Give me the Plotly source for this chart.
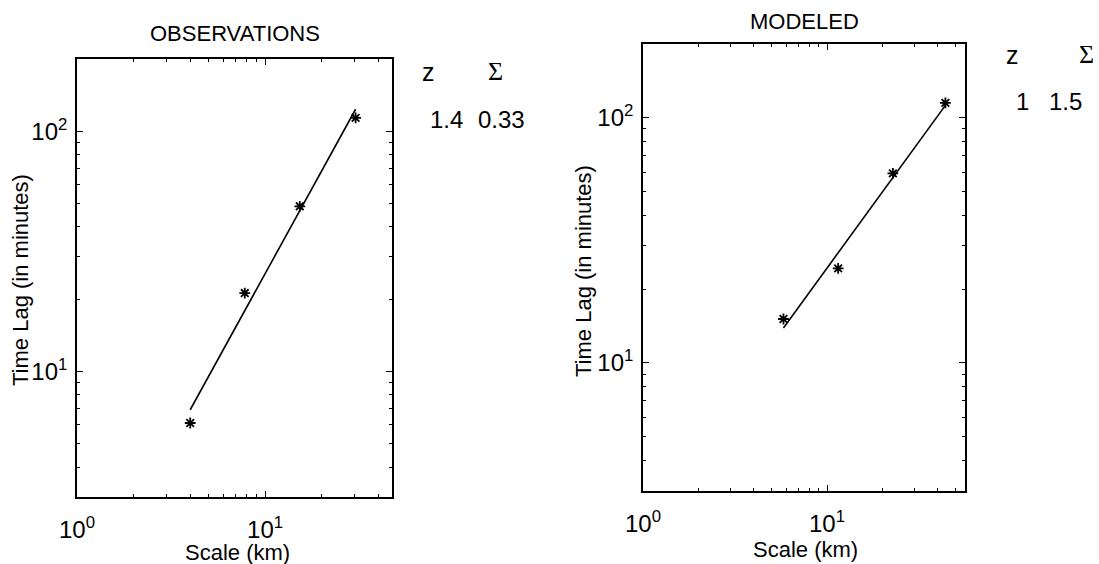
import numpy as np
import plotly.graph_objects as go

# Observed time lag vs spatial scale
obs_scale = [4.0, 7.8, 15.3, 30.3]
obs_lag = [6.1, 21.2, 48.7, 113.7]

# Modeled time lag vs spatial scale
mod_scale = [5.8, 11.5, 22.8, 44.0]
mod_lag = [15.1, 24.3, 59.3, 115.0]

panel_titles = ["OBSERVATIONS", "MODELED"]
param_heads = ["z", "\u03a3"]
obs_params = ["1.4", "0.33"]
mod_params = ["1", "1.5"]

decades = [1, 10, 100]
decade_labels = ["10<sup>0</sup>", "10<sup>1</sup>", "10<sup>2</sup>"]

W, H = 1099, 564
SANS = "Liberation Sans, Arial, sans-serif"
SERIF = "Liberation Serif, Times New Roman, serif"


def px(x):
    return x / W


def py(y):
    return 1 - y / H


def power_fit(xs, ys):
    lx, ly = np.log10(xs), np.log10(ys)
    slope, icpt = np.polyfit(lx, ly, 1)
    xe = np.array([min(xs), max(xs)])
    return xe, 10 ** (icpt + slope * np.log10(xe))


fig = go.Figure()

panels = [
    dict(xs=obs_scale, ys=obs_lag, xa="x", ya="y"),
    dict(xs=mod_scale, ys=mod_lag, xa="x2", ya="y2"),
]
for p in panels:
    fx, fy = power_fit(p["xs"], p["ys"])
    fig.add_trace(go.Scatter(x=fx, y=fy, mode="lines", xaxis=p["xa"], yaxis=p["ya"],
                             line=dict(color="black", width=1.6), showlegend=False))
    fig.add_trace(go.Scatter(x=p["xs"], y=p["ys"], mode="markers", xaxis=p["xa"], yaxis=p["ya"],
                             marker=dict(symbol="asterisk-open", size=9, color="black",
                                         line=dict(color="black", width=1.8)),
                             showlegend=False))


def log_axis(domain, rng, anchor, standoff):
    return dict(
        type="log", domain=domain, range=rng, anchor=anchor,
        showgrid=False, zeroline=False,
        showline=True, linecolor="black", linewidth=1.6, mirror="ticks",
        ticks="inside", ticklen=6, tickwidth=1.2, tickcolor="black",
        tickmode="array", tickvals=decades, ticktext=decade_labels,
        tickfont=dict(family=SANS, size=24, color="black"),
        ticklabelstandoff=standoff,
        minor=dict(ticks="inside", ticklen=3, tickwidth=1, tickcolor="black", dtick="D1"),
        automargin=False,
    )


# plot areas in pixels: (left, right, top, bottom)
boxes = [(77, 392, 59, 497), (643, 965, 44, 491)]
xr = [[0, 1.675], [0, 1.75]]
yr = [np.log10(3), np.log10(200)]

layout = dict(
    width=W, height=H, margin=dict(l=0, r=0, t=0, b=0),
    paper_bgcolor="white", plot_bgcolor="white", showlegend=False,
)
for i, (l, r, t, b) in enumerate(boxes):
    sfx = "" if i == 0 else str(i + 1)
    layout["xaxis" + sfx] = log_axis([px(l), px(r)], xr[i], "y" + sfx, 10)
    layout["yaxis" + sfx] = log_axis([py(b), py(t)], yr, "x" + sfx, 3)
fig.update_layout(**layout)

ann = []


def text(x, y, s, size=22, family=SANS, angle=0):
    ann.append(dict(x=px(x), y=py(y), xref="paper", yref="paper", text=s, showarrow=False,
                    xanchor="center", yanchor="middle", textangle=angle,
                    font=dict(family=family, size=size, color="black")))


# panel titles
text(234.5, 33, panel_titles[0])
text(804, 21, panel_titles[1])
# axis titles
text(237, 552, "Scale (km)")
text(805, 549, "Scale (km)")
text(20, 280, "Time Lag (in minutes)", angle=-90)
text(583, 271, "Time Lag (in minutes)", angle=-90)
# fit parameters beside each panel
text(428, 72, param_heads[0], size=25)
text(495, 71, param_heads[1], size=26, family=SERIF)
text(446, 120, obs_params[0], size=24)
text(501.5, 120, obs_params[1], size=24)
text(1012.5, 55, param_heads[0], size=25)
text(1086, 55, param_heads[1], size=26, family=SERIF)
text(1022, 101, mod_params[0], size=24)
text(1065, 101, mod_params[1], size=24)
fig.update_layout(annotations=ann)

fig.write_html("out.html")
